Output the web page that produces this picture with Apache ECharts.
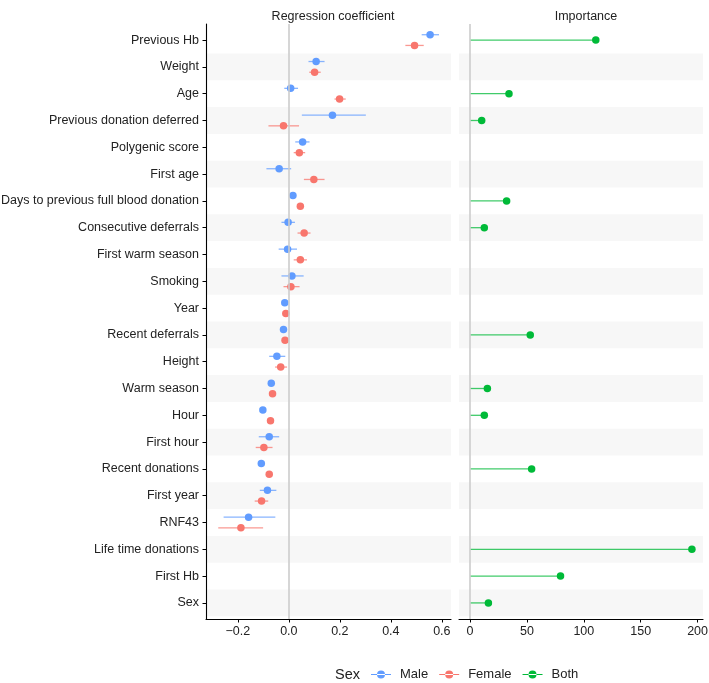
<!DOCTYPE html>
<html>
<head>
<meta charset="utf-8">
<script src="https://cdn.jsdelivr.net/npm/echarts@6/dist/echarts.min.js"></script>
<style>
html,body{margin:0;padding:0;background:#fff;}
#chart{width:709px;height:683px;}
</style>
</head>
<body>
<div id="chart"></div>
<script>
var categories = ["Previous Hb","Weight","Age","Previous donation deferred","Polygenic score","First age","Days to previous full blood donation","Consecutive deferrals","First warm season","Smoking","Year","Recent deferrals","Height","Warm season","Hour","First hour","Recent donations","First year","RNF43","Life time donations","First Hb","Sex"];

var maleEst = [0.554,0.107,0.007,0.171,0.054,-0.038,0.016,-0.003,-0.005,0.012,-0.016,-0.021,-0.047,-0.069,-0.102,-0.077,-0.108,-0.084,-0.158,null,null,null];
var maleLo  = [0.521,0.077,-0.018,0.051,0.025,-0.088,0.012,-0.029,-0.040,-0.029,-0.020,-0.025,-0.077,-0.073,-0.106,-0.118,-0.112,-0.114,-0.256,null,null,null];
var maleHi  = [0.589,0.140,0.036,0.302,0.081,0.009,0.020,0.024,0.032,0.058,-0.012,-0.017,-0.014,-0.065,-0.098,-0.038,-0.104,-0.049,-0.053,null,null,null];

var femaleEst = [0.493,0.101,0.199,-0.021,0.041,0.098,0.045,0.060,0.045,0.008,-0.012,-0.015,-0.032,-0.064,-0.072,-0.098,-0.077,-0.107,-0.188,null,null,null];
var femaleLo  = [0.457,0.080,0.179,-0.080,0.019,0.059,0.041,0.034,0.019,-0.021,-0.016,-0.019,-0.054,-0.068,-0.076,-0.130,-0.081,-0.134,-0.277,null,null,null];
var femaleHi  = [0.529,0.125,0.223,0.040,0.064,0.140,0.049,0.085,0.071,0.042,-0.008,-0.011,-0.007,-0.060,-0.068,-0.064,-0.073,-0.081,-0.101,null,null,null];

var importance = [110.5,null,34.2,10.2,null,null,32.1,12.5,null,null,null,52.9,null,15.2,12.5,null,54.1,null,null,195,79.5,16.1];

var coefTicks = [-0.2,0,0.2,0.4,0.6];
var impTicks = [0,50,100,150,200];

var colMale = '#619CFF', colFemale = '#F8766D', colBoth = '#00BA38';
var offset = 0.2;

var rowIdx = categories.map(function(c,i){return i;});
var bandRows = rowIdx.filter(function(i){return i % 2 === 1;});

function ptData(est, off){
  var out = [];
  est.forEach(function(v,i){ if(v!==null) out.push([v, i+off]); });
  return out;
}
function segData(lo, hi, off){
  var out = [];
  lo.forEach(function(v,i){ if(v!==null && hi[i]!==null) out.push([v, hi[i], i+off]); });
  return out;
}
var impPts = [], impSegs = [];
importance.forEach(function(v,i){ if(v!==null){ impPts.push([v,i]); impSegs.push([0,v,i]); } });

function segRender(color, opacity){
  return function(params, api){
    var a = api.coord([api.value(0), api.value(2)]);
    var b = api.coord([api.value(1), api.value(2)]);
    return {type:'line', shape:{x1:a[0],y1:a[1],x2:b[0],y2:b[1]}, style:{stroke:color, lineWidth:1.3, opacity:opacity}};
  };
}
function bandRender(params, api){
  var cs = params.coordSys;
  var i = api.value(0);
  var y1 = api.coord([0, i-0.5])[1];
  var y2 = api.coord([0, i+0.5])[1];
  return {type:'rect', shape:{x:cs.x, y:Math.min(y1,y2), width:cs.width, height:Math.abs(y2-y1)}, style:{fill:'#f7f7f7'}};
}

var zeroLine = {silent:true, symbol:['none','none'], label:{show:false}, lineStyle:{color:'#cccccc', width:1.6, type:'solid'}, data:[{xAxis:0}], animation:false};

var yAxisBase = {
  type:'value', min:-0.6, max:21.6, inverse:true, splitLine:{show:false}
};

var txt = '#222222';
var font = 'Liberation Sans, Arial, Helvetica, sans-serif';
var fs = 12.5;

var chart = echarts.init(document.getElementById('chart'));
chart.setOption({
  animation:false,
  textStyle:{fontFamily:font},
  grid:[
    {left:206, top:24, width:245, height:595, containLabel:false, outerBoundsMode:'none'},
    {left:459, top:24, width:244, height:595, containLabel:false, outerBoundsMode:'none'}
  ],
  title:[
    {text:'Regression coefficient', left:328, top:5, textAlign:'center', textStyle:{fontSize:fs, fontWeight:'normal', color:txt, fontFamily:font}},
    {text:'Importance', left:581, top:5, textAlign:'center', textStyle:{fontSize:fs, fontWeight:'normal', color:txt, fontFamily:font}}
  ],
  xAxis:[
    {type:'value', gridIndex:0, min:-0.325, max:0.636, splitLine:{show:false},
     axisLine:{show:true, onZero:false, lineStyle:{color:'#000', width:1.1}},
     axisTick:{show:true, length:3.5, customValues:coefTicks, lineStyle:{color:'#000'}},
     axisLabel:{customValues:coefTicks, margin:6, fontSize:fs, color:txt, fontFamily:font,
       formatter:function(v){ var s = Math.abs(v).toFixed(1); return (v<-1e-9?'\u2212':'')+s; }}},
    {type:'value', gridIndex:1, min:-9.75, max:204.75, splitLine:{show:false},
     axisLine:{show:true, onZero:false, lineStyle:{color:'#000', width:1.1}},
     axisTick:{show:true, length:3.5, customValues:impTicks, lineStyle:{color:'#000'}},
     axisLabel:{customValues:impTicks, margin:6, fontSize:fs, color:txt, fontFamily:font,
       formatter:function(v){ return String(v); }}}
  ],
  yAxis:[
    Object.assign({}, yAxisBase, {gridIndex:0,
      axisLine:{show:true, onZero:false, lineStyle:{color:'#000', width:1.1}},
      axisTick:{show:true, length:3.5, customValues:rowIdx, lineStyle:{color:'#000'}},
      axisLabel:{customValues:rowIdx, margin:7, fontSize:fs, color:txt, fontFamily:font,
        formatter:function(v){ return categories[Math.round(v)]; }}}),
    Object.assign({}, yAxisBase, {gridIndex:1,
      axisLine:{show:false}, axisTick:{show:false}, axisLabel:{show:false}})
  ],
  legend:{
    left:371, top:668, padding:0, itemWidth:20, itemHeight:8, itemGap:11,
    data:['Male','Female','Both'],
    textStyle:{fontSize:13, color:txt, fontFamily:font, padding:[0,0,0,4]},
    icon:'path://M0,3.4h20v1.2h-20z M6,4a4,4 0 1,0 8,0a4,4 0 1,0 -8,0z'
  },
  graphic:[
    {type:'text', left:335, top:667, style:{text:'Sex', fontSize:14.5, fill:txt, fontFamily:font}}
  ],
  series:[
    {type:'custom', name:'band0', xAxisIndex:0, yAxisIndex:0, data:bandRows.map(function(i){return [i];}), renderItem:bandRender, encode:{y:0}, silent:true, z:0, markLine:zeroLine},
    {type:'custom', name:'band1', xAxisIndex:1, yAxisIndex:1, data:bandRows.map(function(i){return [i];}), renderItem:bandRender, encode:{y:0}, silent:true, z:0, markLine:zeroLine},
    {type:'custom', name:'Male CI', xAxisIndex:0, yAxisIndex:0, data:segData(maleLo, maleHi, -offset), renderItem:segRender(colMale,0.75), encode:{x:[0,1], y:2}, z:2},
    {type:'custom', name:'Female CI', xAxisIndex:0, yAxisIndex:0, data:segData(femaleLo, femaleHi, offset), renderItem:segRender(colFemale,0.75), encode:{x:[0,1], y:2}, z:2},
    {type:'custom', name:'Both seg', xAxisIndex:1, yAxisIndex:1, data:impSegs, renderItem:segRender(colBoth,0.75), encode:{x:[0,1], y:2}, z:2},
    {type:'scatter', name:'Male', xAxisIndex:0, yAxisIndex:0, data:ptData(maleEst, -offset), symbolSize:7.5, itemStyle:{color:colMale, opacity:1}, z:3},
    {type:'scatter', name:'Female', xAxisIndex:0, yAxisIndex:0, data:ptData(femaleEst, offset), symbolSize:7.5, itemStyle:{color:colFemale, opacity:1}, z:3},
    {type:'scatter', name:'Both', xAxisIndex:1, yAxisIndex:1, data:impPts, symbolSize:7.5, itemStyle:{color:colBoth, opacity:1}, z:3}
  ]
});
</script>
</body>
</html>
